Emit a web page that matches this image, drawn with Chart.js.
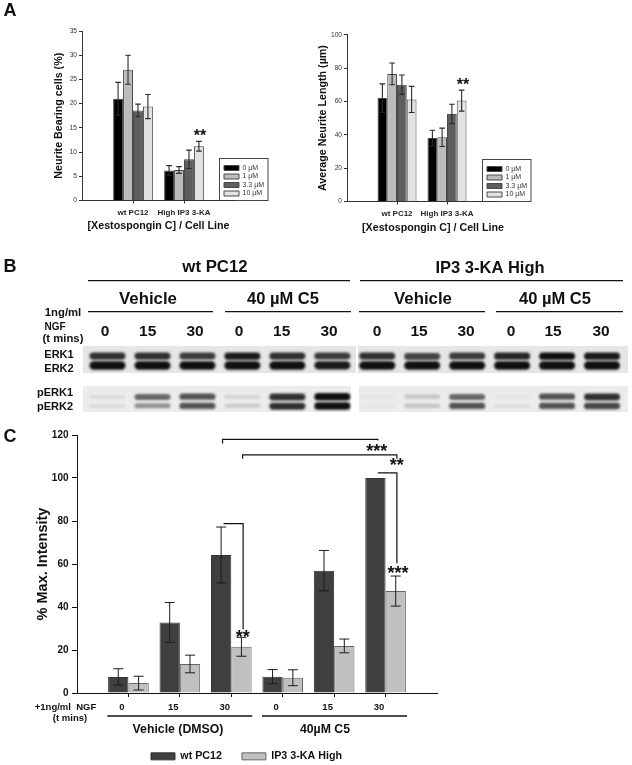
<!DOCTYPE html>
<html lang="en">
<head>
  <meta charset="UTF-8">
  <title>Xestospongin C / ERK panels</title>
  <script src="https://cdn.jsdelivr.net/npm/chart.js"></script>
  <style>
    html, body { margin: 0; padding: 0; background: #fff; }
    body { position: relative; width: 632px; height: 765px; overflow: hidden; }
    canvas { position: absolute; }
  </style>
</head>
<body>
  <canvas id="panelA1" width="316" height="240" style="left:0;top:0;filter:blur(0.45px)"></canvas>
  <canvas id="panelA2" width="316" height="240" style="left:316px;top:0;filter:blur(0.45px)"></canvas>
  <canvas id="panelB" width="632" height="170" style="left:0;top:250px;filter:blur(0.3px)"></canvas>
  <canvas id="panelC" width="632" height="345" style="left:0;top:420px;filter:blur(0.25px)"></canvas>

  <script>
    // Panel A, left: neurite bearing cells
    var cellLines = ['', 'wt PC12', 'High IP3 3-KA', ''];
    var bearing0 = [null, 21, 6.2, null];
    var bearing1 = [null, 27, 6.3, null];
    var bearing3 = [null, 18.6, 8.5, null];
    var bearing10 = [null, 19.4, 11.2, null];
    var bearingErr0 = [null, 3.4, 1, null];
    var bearingErr1 = [null, 3, 0.7, null];
    var bearingErr3 = [null, 1.3, 1.9, null];
    var bearingErr10 = [null, 2.5, 1, null];

    // Panel A, right: neurite length
    var length0 = [null, 62, 38, null];
    var length1 = [null, 76.5, 38.5, null];
    var length3 = [null, 70, 52.5, null];
    var length10 = [null, 61.2, 60.5, null];
    var lengthErr0 = [null, 8.5, 4.7, null];
    var lengthErr1 = [null, 6.5, 5.5, null];
    var lengthErr3 = [null, 5.8, 5.8, null];
    var lengthErr10 = [null, 7.8, 6.3, null];

    var doseNames = ['0 µM', '1 µM', '3.3 µM', '10 µM'];

    // Panel B: band darkness per lane, 0 to 1
    var laneTimes = ['0', '15', '30', '0', '15', '30', '0', '15', '30', '0', '15', '30'];
    var erk1Bands = [0.85, 0.85, 0.8, 0.95, 0.85, 0.8, 0.85, 0.75, 0.8, 0.9, 1, 0.95];
    var erk2Bands = [1, 1, 1, 1, 1, 0.95, 1, 1, 1, 1, 1, 1];
    var perk1Bands = [0.07, 0.6, 0.7, 0.1, 0.85, 1, 0.03, 0.18, 0.6, 0.04, 0.7, 0.85];
    var perk2Bands = [0.08, 0.4, 0.7, 0.15, 0.85, 1, 0.03, 0.18, 0.7, 0.06, 0.7, 0.75];

    // Panel C: max intensity
    var timeLabels = ['', '0', '15', '30', '0', '15', '30', ''];
    var wtIntensity = [null, 7.5, 32.8, 64.2, 7.6, 56.9, 100, null];
    var ip3Intensity = [null, 4.6, 13.5, 21.5, 7.1, 21.9, 47.4, null];
    var wtErr = [null, 3.8, 9.3, 13, 3.3, 9.4, 0, null];
    var ip3Err = [null, 3.2, 4.1, 4.4, 3.7, 3.2, 7, null];
    // from, to (category position), height, left drop, right drop
    var brackets = [
      [2.83, 5.85, 118, 116, 117.5],
      [3.22, 6.22, 110.8, 108.9, 108.9],
      [5.85, 6.22, 102.4, 102.4, 60.4],
      [2.85, 3.23, 78.8, 78.8, 29.6]
    ];

    Chart.defaults.font.family = '"Liberation Sans", Arial, sans-serif';
    Chart.defaults.animation = false;
    Chart.defaults.responsive = false;
    Chart.defaults.color = '#222';

    var BOLD = '"Liberation Sans", Arial, sans-serif';

    function note(text, x, y, size, extra) {
      var n = { text: text, x: x, y: y, size: size, weight: 'bold', color: '#111', rot: 0 };
      for (var k in extra) n[k] = extra[k];
      return n;
    }

    // asterisks sit high in the glyph box, so move the baseline down
    function stars(text, x, y, size) {
      return note(text, x, y + size * 0.16, size);
    }

    // free text and rules, in page coordinates
    function furniturePlugin(offX, offY, notes, rules) {
      return {
        id: 'furniture',
        afterDraw: function(chart) {
          var c = chart.ctx;
          c.save();
          c.translate(-offX, -offY);
          (rules || []).forEach(function(r) {
            c.strokeStyle = '#111';
            c.lineWidth = r[4] || 1.3;
            c.beginPath();
            c.moveTo(r[0], r[1]);
            c.lineTo(r[2], r[3]);
            c.stroke();
          });
          notes.forEach(function(n) {
            c.save();
            c.translate(n.x, n.y);
            c.rotate(n.rot);
            c.font = n.weight + ' ' + n.size + 'px ' + BOLD;
            c.fillStyle = n.color;
            c.textAlign = n.align || 'center';
            c.textBaseline = 'middle';
            c.fillText(n.text, 0, 0);
            c.restore();
          });
          c.restore();
        }
      };
    }

    function errorPlugin(errs, cap, width, color) {
      return {
        id: 'errorBars',
        afterDatasetsDraw: function(chart) {
          var c = chart.ctx, y = chart.scales.y;
          c.save();
          c.strokeStyle = color;
          c.lineWidth = width;
          errs.forEach(function(list, i) {
            var meta = chart.getDatasetMeta(i);
            var vals = chart.data.datasets[i].data;
            list.forEach(function(e, j) {
              if (!e) return;
              var px = meta.data[j].x;
              var top = y.getPixelForValue(vals[j] + e);
              var bot = y.getPixelForValue(vals[j] - e);
              c.beginPath();
              c.moveTo(px, top); c.lineTo(px, bot);
              c.moveTo(px - cap, top); c.lineTo(px + cap, top);
              c.moveTo(px - cap, bot); c.lineTo(px + cap, bot);
              c.stroke();
            });
          });
          c.restore();
        }
      };
    }

    // legend frame behind the chart, legend items moved into it
    function legendPlugin(frame, itemLeft, itemTop) {
      return {
        id: 'legendPlace',
        afterLayout: function(chart) {
          var l = chart.legend, pad = l.options.labels.padding;
          l.left = itemLeft - pad;
          l.right = l.left + l.width;
          l.top = itemTop - pad;
          l.bottom = l.top + l.height;
        },
        beforeDraw: function(chart) {
          if (!frame) return;
          var c = chart.ctx;
          c.fillStyle = '#fff';
          c.strokeStyle = '#444';
          c.lineWidth = 1;
          c.fillRect(frame[0], frame[1], frame[2], frame[3]);
          c.strokeRect(frame[0], frame[1], frame[2], frame[3]);
        }
      };
    }

    function doseChart(id, series, errs, yMax, yStep, yText, box, xTitle, xPad, yPad, plugins) {
      var fills = ['#000000', '#bcbcbc', '#5e5e5e', '#e2e2e2'];
      return new Chart(document.getElementById(id), {
        type: 'bar',
        data: {
          labels: cellLines,
          datasets: series.map(function(d, i) {
            return { label: doseNames[i], data: d, backgroundColor: fills[i], borderColor: '#4a4a4a', borderWidth: 1 };
          })
        },
        plugins: plugins.concat([errorPlugin(errs, 2.8, 1.1, '#2a2a2a')]),
        options: {
          layout: { padding: { left: 0, top: box.top, right: box.right, bottom: 0 } },
          datasets: { bar: { categoryPercentage: 0.78, barPercentage: 1 } },
          plugins: {
            tooltip: { enabled: false },
            legend: {
              position: 'chartArea',
              align: 'start',
              labels: { boxWidth: 15, boxHeight: 5, padding: 1.5, font: { size: 7 }, color: '#333' }
            }
          },
          scales: {
            x: {
              offset: false,
              afterFit: function(s) { s.height = box.xH; },
              border: { color: '#333', width: 1 },
              grid: {
                offset: false, drawOnChartArea: false, tickLength: 3,
                tickColor: function(c) { return (c.index === 0 || c.index === 3) ? 'transparent' : '#333'; }
              },
              ticks: { autoSkip: false, maxRotation: 0, padding: 4, color: '#222', font: { size: 8, weight: 'bold' } },
              title: { display: xTitle, text: '[Xestospongin C] / Cell Line', color: '#111', font: { size: 10.7, weight: 'bold' }, padding: xPad }
            },
            y: {
              min: 0, max: yMax,
              afterFit: function(s) { s.width = box.left; },
              border: { color: '#333', width: 1 },
              grid: { drawOnChartArea: false, tickLength: 3, tickColor: '#333' },
              ticks: { stepSize: yStep, padding: 2, color: '#333', font: { size: 6.6 } },
              title: { display: true, text: yText, color: '#111', font: { size: 10.7, weight: 'bold' }, padding: yPad }
            }
          }
        }
      });
    }

    doseChart('panelA1',
      [bearing0, bearing1, bearing3, bearing10],
      [bearingErr0, bearingErr1, bearingErr3, bearingErr10],
      35, 5, 'Neurite Bearing cells (%)',
      { left: 82, right: 81, top: 31, xH: 39.5 }, true, 8, 52.5,
      [legendPlugin([219.5, 158.5, 48.5, 42], 224, 164.5),
       furniturePlugin(0, 0, [note('A', 10, 11, 18), stars('**', 200, 134, 16)])]);

    doseChart('panelA2',
      [length0, length1, length3, length10],
      [lengthErr0, lengthErr1, lengthErr3, lengthErr10],
      100, 20, 'Average Neurite Length (µm)',
      { left: 31, right: 135, top: 34.7, xH: 38.5 }, false, 6, 0.5,
      [legendPlugin([166.5, 159.5, 48.5, 42], 171, 165.5),
       furniturePlugin(316, 0, [
         note('[Xestospongin C] / Cell Line', 433, 228, 10.7),
         stars('**', 463, 82.7, 16)
       ])]);

    // small blurred bar used as the point image of one blot band
    function bandImage(dark, w, h) {
      var cv = document.createElement('canvas');
      cv.width = w + 10; cv.height = h + 10;
      var c = cv.getContext('2d');
      c.filter = 'blur(1.1px)';
      c.fillStyle = 'rgba(15,15,15,' + dark + ')';
      c.beginPath();
      c.roundRect(5, 5, w, h, h / 2);
      c.fill();
      return cv;
    }

    function bandSet(name, bands, row, baseH, growH) {
      return {
        label: name,
        clip: false,
        data: bands.map(function(v, i) { return { x: i, y: row }; }),
        pointStyle: function(ctx) {
          var dark = bands[ctx.dataIndex];
          return bandImage(dark, 36, baseH + growH * dark);
        },
        pointRadius: 4
      };
    }

    var blotStrips = {
      id: 'blotStrips',
      beforeDatasetsDraw: function(chart) {
        var c = chart.ctx;
        c.fillStyle = '#e6e6e6';
        c.fillRect(83, 96, 273, 27);
        c.fillRect(358, 96, 270, 27);
        c.fillStyle = '#ececec';
        c.fillRect(83, 136, 268, 26);
        c.fillRect(359, 136, 269, 26);
      }
    };

    var laneX = [105, 147.7, 195, 239, 281.7, 329, 377, 419, 466, 511, 553, 601];
    var blotNotes = [
      note('B', 10, 267, 18),
      note('wt PC12', 215, 267.7, 16.8),
      note('IP3 3-KA High', 490, 268, 16.5),
      note('Vehicle', 148, 299, 16.8),
      note('40 µM C5', 283, 299, 16.5),
      note('Vehicle', 423, 299, 16.8),
      note('40 µM C5', 555, 299, 16.5),
      note('1ng/ml', 63, 313, 11.3),
      note('NGF', 55, 327, 10),
      note('(t mins)', 63, 339, 11.3),
      note('ERK1', 59, 355, 11),
      note('ERK2', 59, 369, 11),
      note('pERK1', 55, 393, 11),
      note('pERK2', 55, 407, 11)
    ];
    laneTimes.forEach(function(t, i) {
      blotNotes.push(note(t, laneX[i], 331.7, 15.5));
    });

    new Chart(document.getElementById('panelB'), {
      type: 'scatter',
      data: {
        datasets: [
          bandSet('ERK1', erk1Bands, 0, 5, 2.5),
          bandSet('ERK2', erk2Bands, 1, 5, 3.5),
          bandSet('pERK1', perk1Bands, 4.4, 3.5, 4),
          bandSet('pERK2', perk2Bands, 5.4, 3.5, 4)
        ]
      },
      plugins: [blotStrips, furniturePlugin(0, 250, blotNotes, [
        [88, 280.7, 350, 280.7], [360, 280.7, 623, 280.7],
        [88, 311.7, 213, 311.7], [225, 311.7, 351, 311.7],
        [359, 311.7, 485, 311.7], [496, 311.7, 623, 311.7]
      ])],
      options: {
        layout: { padding: { left: 107.5, right: 30, top: 106, bottom: 14.3 } },
        plugins: { legend: { display: false }, tooltip: { enabled: false } },
        scales: {
          x: { display: false, min: 0, max: 11 },
          y: { display: false, min: 0, max: 5.4, reverse: true }
        }
      }
    });

    var bracketPlugin = {
      id: 'brackets',
      afterDatasetsDraw: function(chart) {
        var c = chart.ctx, x = chart.scales.x, y = chart.scales.y;
        c.save();
        c.strokeStyle = '#111';
        c.lineWidth = 1.2;
        brackets.forEach(function(b) {
          var x0 = x.getPixelForValue(b[0]), x1 = x.getPixelForValue(b[1]);
          c.beginPath();
          c.moveTo(x0, y.getPixelForValue(b[3]));
          c.lineTo(x0, y.getPixelForValue(b[2]));
          c.lineTo(x1, y.getPixelForValue(b[2]));
          c.lineTo(x1, y.getPixelForValue(b[4]));
          c.stroke();
        });
        c.restore();
      }
    };

    new Chart(document.getElementById('panelC'), {
      type: 'bar',
      data: {
        labels: timeLabels,
        datasets: [
          { label: 'wt PC12', data: wtIntensity, backgroundColor: '#3f3f3f', borderColor: '#333', borderWidth: 1 },
          { label: 'IP3 3-KA High', data: ip3Intensity, backgroundColor: '#c0c0c0', borderColor: '#666', borderWidth: 1 }
        ]
      },
      plugins: [
        legendPlugin(null, 151, 331),
        errorPlugin([wtErr, ip3Err], 5, 1, '#1c1c1c'),
        bracketPlugin,
        furniturePlugin(0, 420, [
          note('C', 10, 437, 18),
          note('+1ng/ml  NGF', 65.5, 707, 9.5),
          note('(t mins)', 70, 718, 9.5),
          note('Vehicle (DMSO)', 178, 730, 12.3),
          note('40µM C5', 325, 730, 12.3),
          stars('***', 376.7, 449, 18),
          stars('**', 396.7, 463, 18),
          stars('***', 398, 570.7, 18),
          stars('**', 242.7, 635, 18)
        ], [
          [107.3, 716, 252.3, 716], [262, 716, 407, 716]
        ])
      ],
      options: {
        layout: { padding: { left: 0, top: 15, right: 195, bottom: 0 } },
        datasets: { bar: { categoryPercentage: 0.79, barPercentage: 1 } },
        plugins: {
          tooltip: { enabled: false },
          legend: {
            position: 'bottom',
            align: 'start',
            labels: { boxWidth: 24, boxHeight: 7, padding: 20, color: '#111', font: { size: 10.7, weight: 'bold' } }
          }
        },
        scales: {
          x: {
            offset: false,
            afterFit: function(s) { s.height = 31.3; },
            border: { color: '#111', width: 1 },
            grid: {
              offset: false, drawOnChartArea: false, tickLength: 4,
              tickColor: function(c) { return (c.index === 0 || c.index === 7) ? 'transparent' : '#111'; }
            },
            ticks: { autoSkip: false, maxRotation: 0, padding: 5, labelOffset: -6.5, color: '#111', font: { size: 9.5, weight: 'bold' } }
          },
          y: {
            min: 0, max: 120,
            afterFit: function(s) { s.width = 77; },
            border: { color: '#111', width: 1 },
            grid: { drawOnChartArea: false, tickLength: 5, tickColor: '#111' },
            ticks: { stepSize: 20, padding: 3.5, color: '#111', font: { size: 10, weight: 'bold' } },
            title: { display: true, text: '% Max. Intensity', color: '#111', font: { size: 14.5, weight: 'bold' }, padding: 34.5 }
          }
        }
      }
    });
  </script>
</body>
</html>
